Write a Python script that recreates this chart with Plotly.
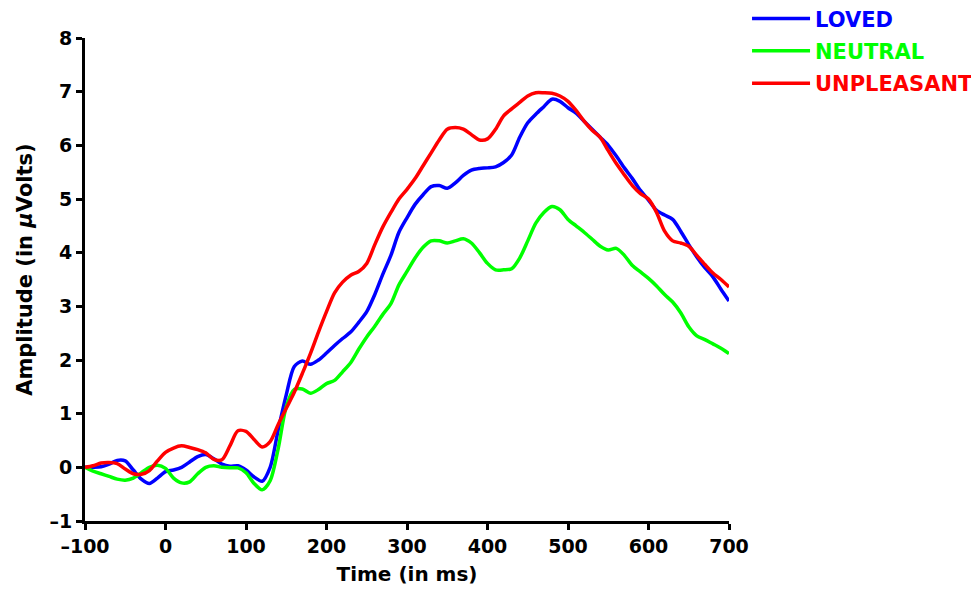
import plotly.graph_objects as go

time_ms = list(range(-100, 701, 10))

loved = [0.00, 0.00, 0.01, 0.06, 0.13, 0.12, -0.05, -0.22, -0.30, -0.20,
         -0.08, -0.05, 0.00, 0.10, 0.20, 0.24, 0.16, 0.06, 0.02, 0.03,
         -0.05, -0.18, -0.26, 0.00, 0.70, 1.35, 1.88, 1.98, 1.92, 2.00,
         2.13, 2.27, 2.40, 2.52, 2.70, 2.90, 3.22, 3.60, 3.95, 4.38,
         4.65, 4.90, 5.08, 5.23, 5.25, 5.20, 5.30, 5.44, 5.54, 5.57,
         5.58, 5.60, 5.68, 5.82, 6.15, 6.42, 6.58, 6.72, 6.86, 6.82,
         6.70, 6.60, 6.45, 6.30, 6.15, 6.00, 5.80, 5.58, 5.38, 5.16,
         4.98, 4.79, 4.70, 4.62, 4.40, 4.15, 3.92, 3.72, 3.55, 3.32,
         3.10]

neutral = [0.00, -0.07, -0.12, -0.17, -0.22, -0.24, -0.20, -0.10, 0.00, 0.04,
           -0.02, -0.20, -0.29, -0.27, -0.12, 0.00, 0.03, 0.00, -0.01, -0.01,
           -0.10, -0.30, -0.42, -0.25, 0.35, 1.13, 1.45, 1.46, 1.38, 1.45,
           1.56, 1.62, 1.78, 1.95, 2.20, 2.43, 2.63, 2.85, 3.05, 3.40,
           3.65, 3.90, 4.10, 4.22, 4.22, 4.18, 4.22, 4.26, 4.18, 4.00,
           3.80, 3.68, 3.68, 3.70, 3.90, 4.22, 4.55, 4.75, 4.86, 4.80,
           4.62, 4.50, 4.38, 4.25, 4.12, 4.05, 4.08, 3.95, 3.76, 3.64,
           3.52, 3.38, 3.22, 3.08, 2.88, 2.62, 2.45, 2.38, 2.30, 2.22,
           2.12]

unpleasant = [0.00, 0.03, 0.08, 0.09, 0.07, -0.03, -0.12, -0.13, -0.06, 0.12,
              0.28, 0.36, 0.40, 0.37, 0.33, 0.27, 0.15, 0.14, 0.40, 0.68,
              0.67, 0.52, 0.38, 0.48, 0.80, 1.10, 1.40, 1.75, 2.12, 2.52,
              2.90, 3.25, 3.45, 3.58, 3.65, 3.80, 4.15, 4.48, 4.75, 5.00,
              5.18, 5.38, 5.62, 5.86, 6.10, 6.30, 6.33, 6.30, 6.20, 6.10,
              6.12, 6.30, 6.55, 6.68, 6.80, 6.92, 6.98, 6.98, 6.97, 6.92,
              6.82, 6.65, 6.45, 6.28, 6.15, 5.90, 5.66, 5.45, 5.25, 5.10,
              5.00, 4.75, 4.40, 4.22, 4.18, 4.12, 3.95, 3.78, 3.62, 3.50,
              3.36]

series_names = ["LOVED", "NEUTRAL", "UNPLEASANT"]
series_colors = ["#0000ff", "#00ff00", "#ff0000"]
series_values = [loved, neutral, unpleasant]

x_ticks = list(range(-100, 701, 100))
y_ticks = list(range(-1, 9))

FONT = "DejaVu Sans, Liberation Sans, Arial, sans-serif"
FS = 19

def lab(v):
    return f"<b>\u2013{abs(v)}</b>" if v < 0 else f"<b>{v}</b>"

fig = go.Figure()
for name, color, vals in zip(series_names, series_colors, series_values):
    fig.add_trace(go.Scatter(
        x=time_ms, y=vals, mode="lines", legendgroup=name,
        name=f'<span style="color:{color}"><b>{name}</b></span>',
        line=dict(color=color, width=3.5, shape="spline", smoothing=0.8),
    ))

# page body adds an 8px offset; figure is sized/margined to compensate
fig.update_layout(
    width=971, height=581,
    margin=dict(l=77, r=250, t=30, b=68, autoexpand=False),
    paper_bgcolor="white", plot_bgcolor="white",
    font=dict(family=FONT, size=FS, color="black"),
    showlegend=True,
    legend=dict(x=1.028, y=1.082, xanchor="left", yanchor="top",
                bgcolor="rgba(0,0,0,0)", font=dict(size=21, family=FONT),
                itemwidth=58, tracegroupgap=2, traceorder="grouped"),
    xaxis=dict(range=[-100, 700], tickvals=x_ticks,
               ticktext=[lab(v) for v in x_ticks],
               showgrid=False, zeroline=False,
               showline=True, linecolor="black", linewidth=3,
               ticks="outside", ticklen=6, tickwidth=2.5, tickcolor="black",
               tickfont=dict(size=FS, family=FONT),
               title=dict(text="<b>Time (in ms)</b>", font=dict(size=20, family=FONT), standoff=12)),
    yaxis=dict(range=[-1, 8], tickvals=y_ticks,
               ticktext=[lab(v) for v in y_ticks],
               showgrid=False, zeroline=False,
               showline=True, linecolor="black", linewidth=3,
               ticks="outside", ticklen=6, tickwidth=2.5, tickcolor="black",
               tickfont=dict(size=FS, family=FONT)),
    annotations=[dict(text="<b>Amplitude (in <i>\u03bc</i>Volts)</b>",
                      xref="paper", yref="paper", x=-0.0932, y=0.522,
                      xanchor="center", yanchor="middle", textangle=-90,
                      showarrow=False, font=dict(size=21, family=FONT))],
)

fig.write_html("out.html")
